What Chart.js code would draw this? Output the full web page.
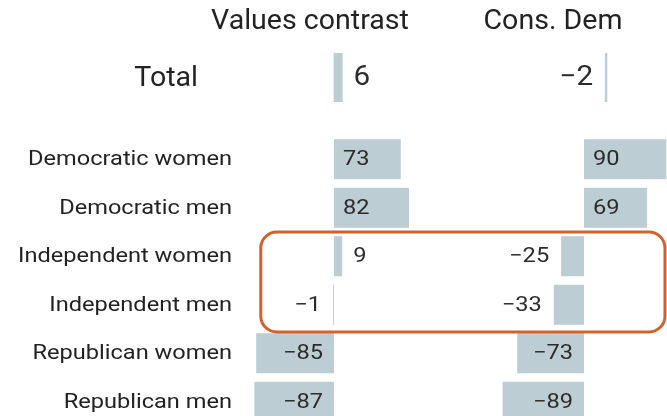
<!DOCTYPE html>
<html>
<head>
<meta charset="utf-8">
<script src="https://cdn.jsdelivr.net/npm/chart.js@4.4.1/dist/chart.umd.min.js"></script>
<style>
  html, body { margin:0; padding:0; background:#fff; width:667px; height:416px; overflow:hidden; }
  #wrap { position:relative; width:667px; height:416px; overflow:hidden; }
  canvas { position:absolute; left:0; }
</style>
</head>
<body>
<div id="wrap">
  <canvas id="top" width="667" height="120" style="top:0;width:667px;height:120px"></canvas>
  <canvas id="rows" width="667" height="291" style="top:135px;width:667px;height:291px"></canvas>
</div>
<script>
// ---- data ----
const panelTitles = ['Values contrast', 'Cons. Dem'];
const totalLabel = ['Total'];
const totalValues = [6];
const totalConsDem = [-2];
const groups = ['Democratic women', 'Democratic men', 'Independent women', 'Independent men', 'Republican women', 'Republican men'];
const valuesContrast = [73, 82, 9, -1, -85, -87];
const consDem = [90, 69, -25, -33, -73, -89];
const highlighted = ['Independent women', 'Independent men'];

// ---- styles ----
const BAR = '#bccdd3';
const TEXT = '#222222';
const VAL = '#2b2b2b';
const FONT = 'Roboto, "Noto Sans", sans-serif';
const STRETCH = 1.18;

function fmt(v) { return v < 0 ? '\u2212' + Math.abs(v) : String(v); }

// draw horizontally stretched text; align: 'left' | 'right' | 'center'
function sText(ctx, t, x, y, align, sx) {
  const w = ctx.measureText(t).width * sx;
  let x0 = x;
  if (align === 'right') x0 = x - w;
  else if (align === 'center') x0 = x - w / 2;
  ctx.save();
  ctx.textAlign = 'left';
  ctx.translate(x0, y);
  ctx.scale(sx, 1);
  ctx.fillText(t, 0, 0);
  ctx.restore();
  return w;
}

const valueLabels = {
  id: 'valueLabels',
  afterDatasetsDraw(chart, args, opts) {
    const ctx = chart.ctx;
    const sx = opts.stretch || STRETCH;
    ctx.save();
    ctx.font = opts.font;
    ctx.fillStyle = VAL;
    ctx.textBaseline = 'middle';
    chart.data.datasets.forEach((ds, di) => {
      const meta = chart.getDatasetMeta(di);
      meta.data.forEach((bar, i) => {
        const v = ds.data[i];
        const t = fmt(v);
        const w = ctx.measureText(t).width * sx;
        const bw = Math.abs(bar.x - bar.base);
        if (v >= 0) {
          if (w + 18 <= bw) sText(ctx, t, bar.base + 9, bar.y + 1, 'left', sx);
          else sText(ctx, t, bar.x + 11, bar.y + 1, 'left', sx);
        } else {
          if (w + 22 <= bw) sText(ctx, t, bar.base - 11, bar.y + 1, 'right', sx);
          else sText(ctx, t, bar.x - 12, bar.y + 1, 'right', sx);
        }
      });
    });
    ctx.restore();
  }
};

const rowLabels = {
  id: 'rowLabels',
  afterDraw(chart, args, opts) {
    const ctx = chart.ctx;
    const y = chart.scales.y;
    ctx.save();
    ctx.font = opts.font;
    ctx.fillStyle = TEXT;
    ctx.textBaseline = 'middle';
    chart.data.labels.forEach((l, i) => sText(ctx, l, opts.right, y.getPixelForValue(i) + 1, 'right', opts.stretch));
    if (opts.titles) {
      ctx.font = opts.titleFont;
      sText(ctx, panelTitles[0], 310, 22, 'center', opts.stretch);
      sText(ctx, panelTitles[1], 553, 22, 'center', opts.stretch);
    }
    ctx.restore();
  }
};

const highlightBox = {
  id: 'highlightBox',
  afterDatasetsDraw(chart) {
    const ctx = chart.ctx;
    const y = chart.scales.y, xl = chart.scales.xl, xr = chart.scales.xr;
    const i0 = groups.indexOf(highlighted[0]), i1 = groups.indexOf(highlighted[1]);
    const top = y.getPixelForValue(i0 - 0.5);
    const bottom = y.getPixelForValue(i1 + 0.56);
    const left = xl.getPixelForValue(-80);
    const right = xr.getPixelForValue(88.5);
    const r = 16;
    ctx.save();
    ctx.strokeStyle = '#d2622b';
    ctx.lineWidth = 3;
    ctx.beginPath();
    ctx.moveTo(left + r, top);
    ctx.lineTo(right - r, top);
    ctx.arcTo(right, top, right, top + r, r);
    ctx.lineTo(right, bottom - r);
    ctx.arcTo(right, bottom, right - r, bottom, r);
    ctx.lineTo(left + r, bottom);
    ctx.arcTo(left, bottom, left, bottom - r, r);
    ctx.lineTo(left, top + r);
    ctx.arcTo(left, top, left + r, top, r);
    ctx.closePath();
    ctx.stroke();
    ctx.restore();
  }
};

const hidden = { display: false, grid: { display: false } };

new Chart(document.getElementById('top'), {
  type: 'bar',
  data: {
    labels: totalLabel,
    datasets: [
      { data: totalValues, xAxisID: 'xl', backgroundColor: BAR, grouped: false, barPercentage: 1, categoryPercentage: 1 },
      { data: totalConsDem, xAxisID: 'xr2', backgroundColor: BAR, grouped: false, barPercentage: 1, categoryPercentage: 1 }
    ]
  },
  options: {
    indexAxis: 'y', responsive: false, animation: false, devicePixelRatio: 1,
    layout: { padding: { top: 53, bottom: 18, left: 0, right: 0 } },
    plugins: { legend: { display: false }, tooltip: { enabled: false },
      valueLabels: { font: '27px ' + FONT, stretch: 1.1 },
      rowLabels: { right: 198, font: '28px ' + FONT, stretch: 1.02, titles: true, titleFont: '28px ' + FONT } },
    scales: {
      y: hidden,
      xl: Object.assign({ type: 'linear', axis: 'x', min: -238.6, max: 237.9 }, hidden),
      xr2: Object.assign({ type: 'linear', axis: 'x', min: -663.4, max: 65.6 }, hidden)
    }
  },
  plugins: [valueLabels, rowLabels]
});

new Chart(document.getElementById('rows'), {
  type: 'bar',
  data: {
    labels: groups,
    datasets: [
      { data: valuesContrast, xAxisID: 'xl', backgroundColor: BAR, grouped: false, barPercentage: 0.826, categoryPercentage: 1 },
      { data: consDem, xAxisID: 'xr', backgroundColor: BAR, grouped: false, barPercentage: 0.826, categoryPercentage: 1 }
    ]
  },
  options: {
    indexAxis: 'y', responsive: false, animation: false, devicePixelRatio: 1,
    layout: { padding: 0 },
    plugins: { legend: { display: false }, tooltip: { enabled: false },
      valueLabels: { font: '20px ' + FONT, stretch: STRETCH },
      rowLabels: { right: 232, font: '20px ' + FONT, stretch: STRETCH } },
    scales: {
      y: hidden,
      xl: Object.assign({ type: 'linear', axis: 'x', min: -365, max: 364 }, hidden),
      xr: Object.assign({ type: 'linear', axis: 'x', min: -638.3, max: 90.7 }, hidden)
    }
  },
  plugins: [valueLabels, rowLabels, highlightBox]
});
</script>
</body>
</html>
